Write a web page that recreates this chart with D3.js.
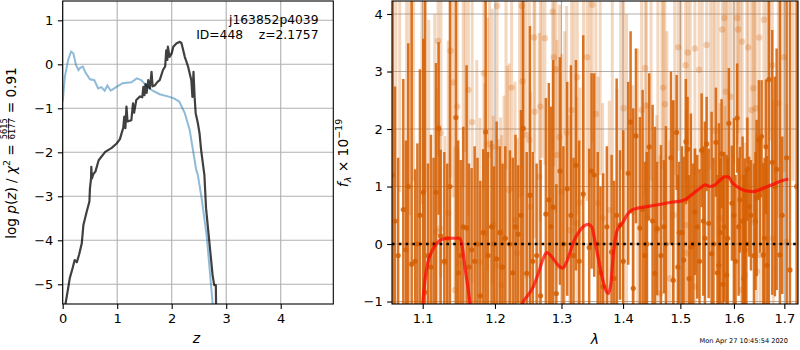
<!DOCTYPE html>
<html><head><meta charset="utf-8">
<script src="https://cdn.jsdelivr.net/npm/d3@7/dist/d3.min.js"></script>
<style>body{margin:0;background:#fff}svg text{font-family:"DejaVu Sans",sans-serif;fill:#000}</style>
</head><body>
<svg id="c" width="800" height="350" xmlns="http://www.w3.org/2000/svg"></svg>
<script>
// ---------- left panel: p(z) ----------
const pzZ   = [0.03,0.10,0.13,0.18,0.22,0.26,0.30,0.35,0.38,0.44,0.49,0.50,0.52,0.525,0.535,0.56,0.60,0.66,0.78,0.90,0.99,1.05,1.08,1.11,1.13,1.15,1.17,1.19,1.26,1.29,1.31,1.35,1.42,1.46,1.48,1.50,1.52,1.54,1.57,1.60,1.63,1.65,1.69,1.74,1.78,1.84,1.88,1.90,1.92,1.93,1.96,2.00,2.03,2.09,2.15,2.18,2.24,2.30,2.36,2.38,2.40,2.42,2.44,2.48,2.51,2.54,2.58,2.60,2.63,2.69,2.75,2.78,2.81,2.815];
const pzLog = [-5.6,-5.09,-4.86,-4.64,-4.45,-4.50,-4.33,-4.07,-3.65,-3.35,-3.12,-2.82,-2.60,-2.33,-2.60,-2.50,-2.44,-2.18,-1.99,-1.90,-1.80,-1.70,-1.57,-1.45,-1.19,-1.45,-0.96,-1.30,-1.27,-0.89,-1.10,-0.81,-0.73,-0.75,-0.51,-0.70,-0.45,-0.65,-0.36,-0.55,-0.17,-0.50,-0.48,-0.40,-0.36,-0.13,-0.05,0.32,0.10,0.40,0.17,0.25,0.40,0.48,0.51,0.48,0.17,-0.05,-0.36,-0.74,-0.17,-0.74,-1.11,-1.34,-1.56,-1.95,-2.33,-2.52,-3.27,-4.03,-4.79,-5.02,-5.02,-5.6];
const priorZ   = [0.0,0.04,0.10,0.153,0.195,0.245,0.29,0.32,0.37,0.41,0.50,0.58,0.65,0.71,0.77,0.82,0.88,0.98,1.10,1.26,1.36,1.44,1.53,1.65,1.78,1.96,2.05,2.14,2.24,2.33,2.39,2.45,2.48,2.55,2.64,2.70,2.75,2.76];
const priorLog = [-0.85,-0.28,0.10,0.29,0.25,-0.02,-0.13,-0.08,-0.05,-0.17,-0.34,-0.36,-0.55,-0.52,-0.60,-0.48,-0.60,-0.52,-0.43,-0.41,-0.32,-0.36,-0.48,-0.60,-0.68,-0.74,-0.78,-0.85,-1.11,-1.49,-1.95,-2.40,-2.52,-3.05,-3.88,-4.71,-5.43,-5.6];
const zTicks = [0,1,2,3,4];
const logTicks = [-5,-4,-3,-2,-1,0,1];
const titleLine1 = "j163852p4039";
const titleLine2 = "ID=448\u00a0\u00a0\u00a0\u00a0z=2.1757";

// ---------- right panel: spectrum ----------
const darkWave = [1.0611,1.0639,1.0680,1.0746,1.0780,1.0810,1.0855,1.0900,1.0930,1.0964,1.1008,1.1030,1.1070,1.1110,1.1145,1.1177,1.1213,1.1240,1.1290,1.1330,1.1367,1.1449,1.1480,1.1515,1.1551,1.1597,1.1630,1.1667,1.1710,1.1750,1.1790,1.1832,1.1866,1.1900,1.1950,1.1985,1.2024,1.2070,1.2110,1.2150,1.2218,1.2260,1.2300,1.2340,1.2381,1.2415,1.2467,1.2516,1.2560,1.2617,1.2677,1.2758,1.2804,1.2836,1.2872,1.2920,1.2976,1.3030,1.3090,1.3149,1.3190,1.3228,1.3280,1.3345,1.3441,1.3480,1.3523,1.3580,1.3625,1.3670,1.3730,1.3809,1.3850,1.3893,1.3949,1.4004,1.4087,1.4128,1.4173,1.4219,1.4288,1.4334,1.4374,1.4405,1.4448,1.4507,1.4548,1.4588,1.4654,1.4706,1.4741,1.4831,1.4872,1.4933,1.4979,1.5060,1.5100,1.5131,1.5192,1.5265,1.5308,1.5389,1.5450,1.5482,1.5520,1.5575,1.5656,1.5712,1.5763,1.5814,1.5859,1.5902,1.5960,1.5998,1.6062,1.6115,1.6167,1.6212,1.6260,1.6295,1.6330,1.6442,1.6486,1.6508,1.6541,1.6575,1.6627,1.6650,1.6686,1.6755,1.6808,1.6843,1.6910,1.6957,1.7047,1.7115,1.7254,
  1.4955,1.5030,1.5160,1.5235,1.5350,1.5420,1.5610,1.5685,1.5740,1.5790,1.5880,1.6030,1.6090,1.6190,1.6240,1.6390,1.6420,1.6600];
const darkFlux = [1.2,0.4,-0.2,0.6,-0.1,1.0,-0.35,-0.3,0.0,0.5,0.9,-0.84,-0.2,-0.4,0.0,0.9,2.01,0.14,-0.3,0.1,1.0,2.2,-0.5,-0.2,0.3,0.28,-0.4,-0.1,-0.3,0.0,-0.9,0.2,1.95,-0.2,0.3,0.0,-0.26,0.2,-0.4,0.1,0.0,-0.5,0.3,0.17,0.5,2.01,-0.51,0.85,-0.3,-0.2,-0.9,0.52,0.77,0.3,0.64,-0.86,1.27,0.0,0.96,0.5,-0.2,1.37,-0.3,0.87,-0.06,1.27,1.2,0.0,-0.5,-0.74,0.3,-0.14,-0.6,0.5,0.33,-0.3,1.23,2.12,-0.77,1.88,0.28,0.6,-0.2,0.0,1.69,0.4,-0.51,0.27,-0.2,0.3,0.0,1.5,-0.63,1.94,0.2,-0.28,1.78,1.65,-0.05,0.56,0.3,1.63,0.1,1.74,0.36,-0.17,1.77,-0.37,1.57,0.3,-0.54,2.1,0.71,0.5,2.19,0.77,0.4,-0.1,1.3,0.65,0.5,0.8,1.81,0.85,1.87,-0.19,1.69,-0.37,2.86,1.42,1.0,1.3,-0.19,0.5,1.5,-0.45,1.0,
  -0.4,0.2,-0.6,0.0,-0.3,0.4,0.0,-0.5,0.2,-0.7,0.1,-0.3,0.3,-0.6,0.0,-0.2,0.4,0.1];
const darkErr  = [4.0,2.34,1.7,2.27,1.9,2.49,5.0,1.6,1.75,2.54,2.67,5.5,1.6,2.3,1.5,2.25,1.5,1.5,1.9,1.3,4.0,3.5,2.3,1.66,1.74,2.83,1.8,1.42,2.0,1.5,2.0,1.45,3.3,1.8,1.5,1.35,2.39,1.5,1.8,1.6,1.63,2.0,1.6,1.2,1.83,3.5,2.11,2.94,1.9,1.6,2.36,2.02,2.03,2.09,2.56,1.9,1.98,1.7,1.86,2.61,1.7,1.83,2.1,2.76,1.72,1.7,1.77,1.6,1.5,1.97,1.4,1.69,1.7,2.38,1.3,2.28,1.59,1.58,3.13,1.52,1.93,2.08,1.63,1.6,1.28,2.02,2.55,1.16,1.92,1.16,2.05,1.5,3.13,1.0,1.23,1.8,1.09,0.91,2.32,1.1,1.25,0.99,2.03,0.82,1.3,2.47,0.95,2.47,0.95,1.3,2.09,0.96,1.0,1.69,0.95,0.92,1.47,1.59,0.9,0.87,0.96,1.36,1.04,1.0,0.98,1.6,1.17,1.9,4.0,2.3,1.91,2.1,5.0,1.37,4.0,5.0,4.5,
  1.6,1.5,1.8,1.4,1.6,1.3,1.5,1.7,1.3,1.9,1.4,1.5,1.2,1.8,1.3,1.6,1.2,1.4];

const lightWave = [1.0650,1.0700,1.0790,1.0880,1.0990,1.1080,1.1187,1.1206,1.1231,1.1244,1.1298,1.1344,1.1375,1.1412,1.1436,1.1467,1.1481,1.1550,1.1621,1.1675,1.1740,1.1785,1.1840,1.1856,1.1894,1.1960,1.1975,1.2030,1.2047,1.2082,1.2097,1.2131,1.2180,1.2208,1.2243,1.2293,1.2327,1.2395,1.2405,1.2457,1.2507,1.2525,1.2577,1.2590,1.2657,1.2672,1.2743,1.2862,1.2882,1.2913,1.2930,1.2970,1.3002,1.3081,1.3133,1.3160,1.3241,1.3250,1.3292,1.3350,1.3408,1.3489,1.3549,1.3587,1.3660,1.3770,1.3900,1.4010,1.4165,1.4317,1.4380,1.4400,1.4415,1.4578,1.4600,1.4636,1.4695,1.4724,1.4813,1.4880,1.4962,1.5095,1.5105,1.5115,1.5135,1.5265,1.5270,1.5344,1.5482,1.5550,1.5640,1.5732,1.5776,1.5814,1.5828,1.5846,1.5935,1.6000,1.6062,1.6081,1.6147,1.6159,1.6212,1.6276,1.6343,1.6375,1.6428,1.6445,1.6494,1.6515,1.6587,1.6700,1.6755,1.6776,1.6878,1.6994,1.7049,
  1.0830,1.1040,1.1160,1.1580,1.1920,1.2160,1.2360,1.2700,1.3050,1.3200,1.3450,1.3620,1.3820,1.3960,1.4060,1.4250,1.4480,1.4670,1.4760,1.4900,1.5010,1.5180,1.5400,1.5600,1.5700,1.5880,1.6120,1.6250,1.6400,1.6640,1.6930,1.7180];
const lightFlux = [4.6,4.8,-1.4,4.5,5.0,-1.3,0.21,3.53,0.27,1.93,-0.32,0.54,3.36,2.81,-0.8,2.39,-0.34,4.5,2.68,2.12,-1.4,-0.31,2.97,0.19,1.74,1.69,0.33,4.14,-0.38,0.2,-0.71,0.08,-1.4,0.94,2.72,0.42,-0.16,4.14,2.83,1.9,1.81,0.65,3.59,2.3,1.17,2.39,3.58,4.04,3.25,3.04,1.55,1.86,0.91,1.94,0.24,2.33,0.36,2.9,0.72,4.6,3.25,4.16,2.26,0.71,0.45,0.59,-1.3,2.36,0.56,2.33,3.06,2.41,0.45,0.24,4.4,-0.86,2.72,2.43,-0.6,0.5,3.42,3.11,0.33,-0.16,3.33,3.4,-0.74,3.03,3.46,4.5,1.97,0.45,3.73,3.93,0.1,2.65,2.56,4.4,3.93,3.73,-0.8,3.52,-0.54,3.42,2.33,2.71,2.36,-0.48,3.59,-0.19,3.9,4.3,3.11,0.1,2.45,3.25,0.04,
  4.7,4.4,-1.5,4.4,4.5,4.6,4.7,4.5,-1.5,4.4,4.8,4.5,4.6,4.4,-1.5,-1.3,4.6,4.5,-1.2,4.8,4.4,4.6,4.5,4.7,4.5,4.8,4.5,4.6,4.4,4.5,4.6,4.9];
const lightErr  = [3.6,3.9,5.8,3.4,4.3,5.2,2.5,2.0,1.8,2.5,2.2,3.0,2.2,2.0,2.5,2.5,2.0,3.5,2.2,2.8,4.6,2.5,2.0,2.6,2.2,2.4,1.9,2.5,2.2,2.0,2.6,2.5,4.5,2.2,1.8,2.4,2.0,2.8,2.0,2.5,2.4,2.0,2.0,2.2,2.5,2.0,2.2,2.4,1.9,2.5,2.0,2.3,2.4,2.2,2.0,2.0,2.2,2.4,2.0,3.8,2.5,2.4,2.3,2.2,2.0,1.9,4.0,2.4,2.2,2.0,2.2,2.0,2.0,2.0,3.0,2.4,2.3,1.8,2.4,2.0,1.8,2.0,2.0,2.2,1.6,2.2,2.4,1.8,2.2,3.2,2.5,2.0,2.2,2.5,2.3,1.6,1.8,3.0,2.2,1.8,2.0,2.4,2.3,2.0,2.0,1.8,2.0,2.4,2.0,2.2,2.2,2.5,2.0,2.4,2.0,2.0,2.4,
  4.2,3.5,5.5,2.8,3.0,3.3,3.9,3.0,5.2,3.0,3.8,3.3,3.6,3.1,5.5,4.7,3.5,3.2,4.9,3.6,3.0,3.4,3.0,3.3,3.5,3.4,3.0,3.2,3.0,3.0,3.5,3.8];

const modelWave = [1.0950,1.1000,1.1030,1.1066,1.1120,1.1187,1.1254,1.1344,1.1505,1.1537,1.1574,1.1621,1.1644,1.1700,1.1900,1.2150,1.2350,1.2416,1.2467,1.2567,1.2643,1.2719,1.2771,1.2848,1.2950,1.3019,1.3092,1.3187,1.3294,1.3427,1.3482,1.3536,1.3590,1.3645,1.3700,1.3753,1.3794,1.3837,1.3893,1.3949,1.4005,1.4062,1.4147,1.4232,1.4405,1.4638,1.4874,1.5025,1.5115,1.5236,1.5359,1.5452,1.5545,1.5640,1.5733,1.5828,1.5891,1.5957,1.6053,1.6181,1.6377,1.6575,1.6776,1.6947,1.7082];
const modelFlux = [-2.0,-1.05,-0.63,-0.34,-0.13,0.01,0.08,0.10,0.10,-0.05,-0.40,-0.80,-1.03,-1.6,-2.0,-1.9,-1.3,-1.0,-0.92,-0.74,-0.51,-0.25,-0.15,-0.22,-0.37,-0.42,-0.28,0.03,0.24,0.34,0.30,0.04,-0.25,-0.54,-0.77,-0.86,-0.71,-0.19,0.21,0.32,0.39,0.50,0.59,0.62,0.65,0.69,0.73,0.75,0.79,0.88,0.97,1.03,1.00,1.03,1.11,1.17,1.17,1.08,1.00,0.94,0.91,0.97,1.04,1.10,1.13];
const lamTicks = [1.1,1.2,1.3,1.4,1.5,1.6,1.7];
const fluxTicks = [-1,0,1,2,3,4];
const stamp = "Mon Apr 27 10:45:54 2020";

// ---------- drawing ----------
const svg = d3.select("#c");
const ORANGE = "rgb(213,94,0)";
const GRID = "#b0b0b0";
const minus = d => d < 0 ? "\u2212" + Math.abs(d) : String(d);

const L = {l:62.7, r:333.3, t:1, b:304};
const R = {l:392, r:798, t:1, b:304};

const xz = d3.scaleLinear().domain([0, 4.965]).range([L.l, L.r]);
const yp = d3.scaleLinear().domain([-5.448, 1.439]).range([L.b, L.t]);
const xw = d3.scaleLog().domain([1.0601, 1.7282]).range([R.l, R.r]);
const yf = d3.scaleLinear().domain([-1.043, 4.226]).range([R.b, R.t]);

const defs = svg.append("defs");
defs.append("clipPath").attr("id","cl").append("rect").attr("x",L.l).attr("y",L.t).attr("width",L.r-L.l).attr("height",L.b-L.t);
defs.append("clipPath").attr("id","cr").append("rect").attr("x",R.l).attr("y",R.t).attr("width",R.r-R.l).attr("height",R.b-R.t);

function grid(P, xs, ys, xt, yt){
  const g = svg.append("g");
  g.selectAll(".gx").data(xt).join("line").attr("x1",d=>xs(d)).attr("x2",d=>xs(d)).attr("y1",P.t).attr("y2",P.b)
    .attr("stroke",GRID).attr("stroke-width",1.1);
  g.selectAll(".gy").data(yt).join("line").attr("y1",d=>ys(d)).attr("y2",d=>ys(d)).attr("x1",P.l).attr("x2",P.r)
    .attr("stroke",GRID).attr("stroke-width",1.1);
}
function axes(P, xs, ys, xt, yt, xfmt, yfmt){
  const ax = svg.append("g").attr("transform",`translate(0,${P.b})`)
    .call(d3.axisBottom(xs).tickValues(xt).tickFormat(xfmt).tickSize(4.9).tickPadding(4.4).tickSizeOuter(0));
  const ay = svg.append("g").attr("transform",`translate(${P.l},0)`)
    .call(d3.axisLeft(ys).tickValues(yt).tickFormat(yfmt).tickSize(4.9).tickPadding(4.4).tickSizeOuter(0));
  [ax, ay].forEach(a => {
    a.select(".domain").remove();
    a.selectAll("line").attr("stroke","#000").attr("stroke-width",1.1);
    a.selectAll("text").attr("font-size",13).attr("font-family","DejaVu Sans").attr("fill","#000");
  });
  svg.append("rect").attr("x",P.l).attr("y",P.t).attr("width",P.r-P.l).attr("height",P.b-P.t)
    .attr("fill","none").attr("stroke","#000").attr("stroke-width",1.1);
}

// left panel
grid(L, xz, yp, zTicks, logTicks);
const gl = svg.append("g").attr("clip-path","url(#cl)");
const lineL = d3.line().x(d=>xz(d[0])).y(d=>yp(d[1]));
gl.append("path").attr("d", lineL(priorZ.map((z,i)=>[z,priorLog[i]])))
  .attr("fill","none").attr("stroke","#1f77b4").attr("stroke-opacity",0.5).attr("stroke-width",2);
gl.append("path").attr("d", lineL(pzZ.map((z,i)=>[z,pzLog[i]])))
  .attr("fill","none").attr("stroke","#000").attr("stroke-opacity",0.75).attr("stroke-width",2.2).attr("stroke-linejoin","round");
axes(L, xz, yp, zTicks, logTicks, d=>String(d), minus);
svg.append("text").attr("x",318.5).attr("y",23.5).attr("text-anchor","end").attr("font-size",12.3).text(titleLine1);
svg.append("text").attr("x",318.5).attr("y",38.5).attr("text-anchor","end").attr("font-size",12.3).text(titleLine2);

// right panel
grid(R, xw, yf, lamTicks, fluxTicks);
const gr = svg.append("g").attr("clip-path","url(#cr)");
const light = lightWave.map((w,i)=>({w, f:lightFlux[i], e:lightErr[i]}));
const dark = darkWave.map((w,i)=>({w, f:darkFlux[i], e:darkErr[i]}));
const gLight = gr.append("g");
gLight.selectAll("line").data(light).join("line")
  .attr("x1",d=>xw(d.w)).attr("x2",d=>xw(d.w)).attr("y1",d=>yf(d.f-d.e)).attr("y2",d=>yf(d.f+d.e))
  .attr("stroke",ORANGE).attr("stroke-opacity",0.25).attr("stroke-width",3);
gLight.selectAll("circle").data(light).join("circle")
  .attr("cx",d=>xw(d.w)).attr("cy",d=>yf(d.f)).attr("r",3.2).attr("fill",ORANGE).attr("fill-opacity",0.25);
const gDark = gr.append("g");
gDark.selectAll("line").data(dark).join("line")
  .attr("x1",d=>xw(d.w)).attr("x2",d=>xw(d.w)).attr("y1",d=>yf(d.f-d.e)).attr("y2",d=>yf(d.f+d.e))
  .attr("stroke",ORANGE).attr("stroke-opacity",0.85).attr("stroke-width",2.5);
gDark.selectAll("circle").data(dark).join("circle")
  .attr("cx",d=>xw(d.w)).attr("cy",d=>yf(d.f)).attr("r",2.6).attr("fill",ORANGE).attr("fill-opacity",0.85);
gr.append("line").attr("x1",R.l).attr("x2",R.r).attr("y1",yf(0)).attr("y2",yf(0))
  .attr("stroke","#000").attr("stroke-width",2.4).attr("stroke-dasharray","2.6,4.2");
gr.append("path").attr("d", d3.line().x(d=>xw(d[0])).y(d=>yf(d[1])).curve(d3.curveMonotoneX)(modelWave.map((w,i)=>[w,modelFlux[i]])))
  .attr("fill","none").attr("stroke","#ff0000").attr("stroke-opacity",0.7).attr("stroke-width",3.2).attr("stroke-linejoin","round");
axes(R, xw, yf, lamTicks, fluxTicks, d3.format(".1f"), minus);

// axis labels
svg.append("text").attr("x",196.5).attr("y",343).attr("text-anchor","middle").attr("font-size",14)
  .attr("font-style","italic").text("z");
svg.append("text").attr("x",595).attr("y",344).attr("text-anchor","middle").attr("font-size",14)
  .attr("font-style","italic").text("\u03bb");
svg.append("text").attr("x",788).attr("y",343).attr("text-anchor","end").attr("font-size",6.6).attr("fill","#000").text(stamp);

// left y label with fraction
(function(){
  const fs = 13.6, ffs = 8.2;
  const g = svg.append("g");
  const t1 = g.append("text").attr("font-size",fs);
  t1.append("tspan").text("log ");
  t1.append("tspan").attr("font-style","italic").text("p");
  t1.append("tspan").text("(");
  t1.append("tspan").attr("font-style","italic").text("z");
  t1.append("tspan").text(") / ");
  t1.append("tspan").attr("font-style","italic").text("\u03c7");
  t1.append("tspan").attr("font-size",fs*0.7).attr("dy",-fs*0.42).text("2");
  t1.append("tspan").attr("dy",fs*0.42).text("\u00a0=\u00a0");
  const w1 = t1.node().getComputedTextLength();
  const num = g.append("text").attr("font-size",ffs).attr("y",-8.2).text("5615");
  const den = g.append("text").attr("font-size",ffs).attr("y",-0.3).text("6177");
  const fw = Math.max(num.node().getComputedTextLength(), den.node().getComputedTextLength()) + 1.5;
  num.attr("x", w1 + fw/2).attr("text-anchor","middle");
  den.attr("x", w1 + fw/2).attr("text-anchor","middle");
  g.append("line").attr("x1",w1+0.5).attr("x2",w1+fw-0.5).attr("y1",-6.9).attr("y2",-6.9).attr("stroke","#000").attr("stroke-width",0.7);
  const t3 = g.append("text").attr("font-size",fs).attr("x", w1+fw).text("\u00a0=\u00a00.91");
  const W = w1 + fw + t3.node().getComputedTextLength();
  g.attr("transform",`translate(15.5,${153 + W/2}) rotate(-90)`);
})();

// right y label
(function(){
  const fs = 13.8;
  const t = svg.append("text").attr("font-size",fs).attr("text-anchor","middle")
    .attr("transform","translate(347.5,153) rotate(-90)");
  t.append("tspan").attr("font-style","italic").text("f");
  t.append("tspan").attr("font-style","italic").attr("font-size",9.5).attr("dy",3).text("\u03bb");
  t.append("tspan").attr("dy",-3).text("\u00a0\u00d7\u00a010");
  t.append("tspan").attr("font-size",9.5).attr("dy",-5.8).text("\u221219");
})();
</script>
</body></html>
